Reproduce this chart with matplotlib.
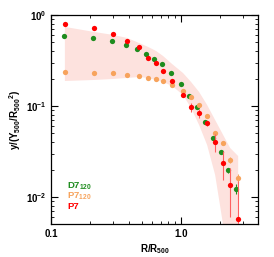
import matplotlib
matplotlib.use("Agg")
import matplotlib.pyplot as plt
from matplotlib.ticker import LogLocator, FixedLocator, FixedFormatter, NullFormatter

plt.rcParams['font.family'] = ['Liberation Sans', 'DejaVu Sans']
plt.rcParams['font.weight'] = 'bold'
plt.rcParams['mathtext.fontset'] = 'custom'
plt.rcParams['mathtext.rm'] = 'Liberation Sans:bold'
plt.rcParams['mathtext.bf'] = 'Liberation Sans:bold'
plt.rcParams['mathtext.default'] = 'bf'

# radii (R/R500)
r_main = [0.128, 0.2146, 0.3006, 0.385, 0.477, 0.560, 0.645, 0.730, 0.857, 1.041,
          1.20, 1.384, 1.595, 1.839, 2.12, 2.40, 2.766]
r_green = [0.126, 0.211, 0.295, 0.379, 0.460, 0.540, 0.622, 0.718, 0.842, 1.005,
           1.159, 1.336, 1.539, 1.775, 2.045, 2.315, 2.67]

# profiles y/(Y500/R500^2)
p7 = [0.796, 0.72, 0.618, 0.52, 0.445, 0.336, 0.297, 0.243, 0.188, 0.132,
      0.0975, 0.0838, 0.065, 0.0402, 0.0236, 0.01355, 0.00573]
p7_err = [0.0, 0.0, 0.0, 0.0, 0.0, 0.0, 0.0, 0.0, 0.0, 0.0,
          0.011, 0.010, 0.004, 0.0088, 0.0082, 0.0075, 0.0093]
d7_120 = [0.588, 0.559, 0.518, 0.468, 0.423, 0.373, 0.328, 0.29, 0.231, 0.175,
          0.129, 0.0975, 0.0667, 0.0445, 0.0312, 0.0198, 0.01225]
d7_err = [0.0, 0.0, 0.0, 0.0, 0.0, 0.0, 0.0, 0.0, 0.0, 0.0,
          0.0, 0.0, 0.0, 0.001, 0.001, 0.0012, 0.0015]
p7_120 = [0.236, 0.231, 0.231, 0.219, 0.214, 0.203, 0.198, 0.188, 0.170, 0.146,
          0.1256, 0.1026, 0.0776, 0.0505, 0.0392, 0.0255, 0.0162]
p7_120_err = [0.0, 0.0, 0.0, 0.0, 0.0, 0.0, 0.0, 0.0, 0.0, 0.0,
              0.0, 0.0, 0.0, 0.0, 0.0015, 0.002, 0.0018]

# shaded envelope
band_hi = [0.738, 0.650, 0.603, 0.559, 0.492, 0.445, 0.402, 0.354, 0.289, 0.230,
           0.1835, 0.1425, 0.1026, 0.0702, 0.0480, 0.0346, 0.0282]
band_lo = [0.188, 0.193, 0.198, 0.203, 0.208, 0.203, 0.193, 0.1835, 0.166, 0.132,
           0.0951, 0.0618, 0.0373, 0.0175, 0.00492, 0.00158, 0.00074]

legend_labels = [r'D7$_{120}$', r'P7$_{120}$', r'P7']

c_red = '#ff0000'
c_green = '#1e8c1e'
c_orange = '#f7a35c'

fig = plt.figure(figsize=(2.74, 2.57), dpi=100)
ax = fig.add_axes([0.186, 0.128, 0.756, 0.814])

ax.fill_between(r_main, band_lo, band_hi, color='#fde2de', lw=0, zorder=1)

ms = 3.8
ax.errorbar(r_green, d7_120, yerr=d7_err, fmt='o', color=c_green, ms=ms, mew=0,
            elinewidth=0.8, capsize=0, zorder=3)
ax.errorbar(r_main, p7_120, yerr=p7_120_err, fmt='o', color=c_orange, ms=ms, mew=0,
            elinewidth=0.8, capsize=0, zorder=3)
ax.errorbar(r_main, p7, yerr=p7_err, fmt='o', color=c_red, ms=ms, mew=0,
            elinewidth=0.8, ecolor='#ff6060', capsize=0, zorder=4)

ax.set_xscale('log')
ax.set_yscale('log')
ax.set_xlim(0.1, 3.94)
ax.set_ylim(0.00505, 1.0)

ax.xaxis.set_major_locator(FixedLocator([0.1, 1.0]))
ax.xaxis.set_major_formatter(FixedFormatter(['0.1', '1.0']))
ax.xaxis.set_minor_locator(LogLocator(base=10, subs=range(2, 10)))
ax.xaxis.set_minor_formatter(NullFormatter())
ax.yaxis.set_minor_locator(LogLocator(base=10, subs=range(2, 10)))
ax.yaxis.set_minor_formatter(NullFormatter())

ax.tick_params(which='both', direction='in', top=True, right=True, labelsize=7)
ax.tick_params(which='major', length=5, width=0.8)
ax.tick_params(which='minor', length=2.5, width=0.6)
for s in ax.spines.values():
    s.set_linewidth(0.9)

ax.set_xlabel(r'R/R$_{500}$', fontsize=7, fontweight='bold', labelpad=2)
ax.set_ylabel(r'y/(Y$_{500}$/R$_{500}$$^{2}$)', fontsize=7, fontweight='bold', labelpad=2)

for lab, col, yb in zip(legend_labels, [c_green, c_orange, c_red], [0.172, 0.122, 0.072]):
    ax.text(0.077, yb, lab, transform=ax.transAxes, color=col, fontsize=6.8,
            fontweight='bold', va='baseline')

fig.savefig('out.png', dpi=100)
